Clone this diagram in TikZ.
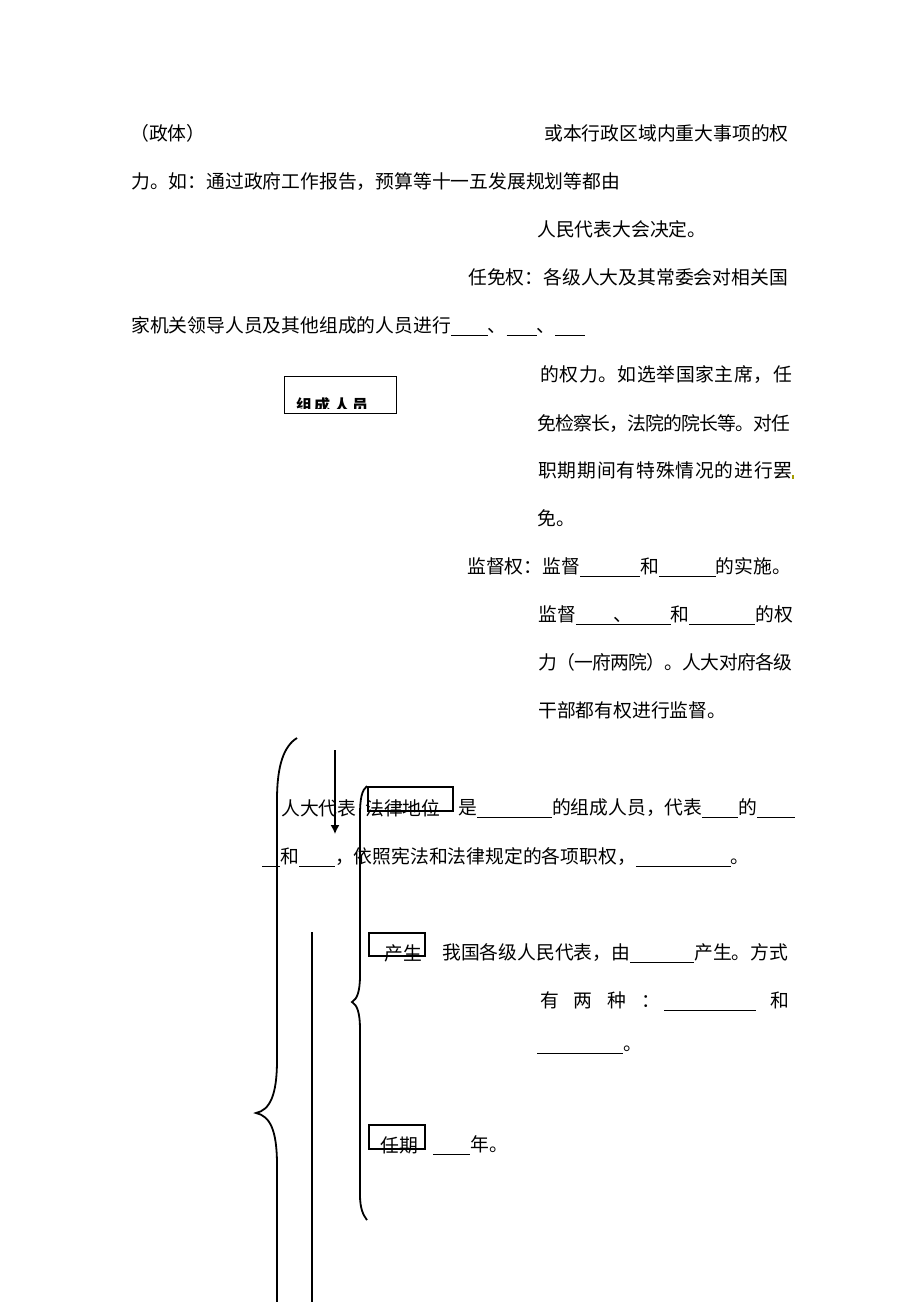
\documentclass[tikz,border=0pt]{standalone}
\usepackage{fontspec}
\setmainfont{Noto Sans CJK SC}
\usetikzlibrary{arrows,arrows.meta}
\newcommand{\fillin}[1]{\rule[-3pt]{#1pt}{0.8pt}}
\newcommand{\jline}[2]{{\addfontfeature{LetterSpace=#1}#2}}

\begin{document}
\begin{tikzpicture}[x=1pt,y=-1pt,
  txt/.style={anchor=west,inner sep=0pt,font=\fontsize{18.8pt}{18.8pt}\selectfont},
  tagbox/.style={draw,line width=2pt,anchor=north west,inner sep=0pt},
  brace/.style={line width=1.8pt}] %Renda
  \useasboundingbox (0,0) rectangle (920,1302);
  % obere Zeilen
  \node[txt] (zhengti) at (130,133) {（政体）};
  \node[txt] (quanli) at (544,133) {或本行政区域内重大事项的权};
  \node[txt] (ruguo) at (131,182) {力。如：通过政府工作报告，预算等十一五发展规划等都由};
  \node[txt] (jueding) at (537,229) {人民代表大会决定。};
  \node[txt] (renmian) at (468,277) {任免权：各级人大及其常委会对相关国};
  \node[txt] (jiguan) at (131,326) {家机关领导人员及其他组成的人员进行\fillin{37}、\fillin{30}、\fillin{30}};
  \node[txt] (xuanju) at (540,375) {\jline{3.3}{的权力。如选举国家主席，任}};
  \node[txt] (jiancha) at (537,424) {\jline{-4.2}{免检察长，法院的院长等。对任}};
  \node[txt] (teshu) at (538,470) {\jline{4.5}{职期期间有特殊情况的进行罢}};
  \fill[olive!80!yellow] (792,475) rectangle (794,479);
  \node[txt] (mian) at (537,518) {免。};
  \node[txt] (jiandu) at (467,567) {监督权：监督\fillin{60}和\fillin{57}的实施。};
  \node[txt] (yifu) at (538,615) {监督\rlap{\fillin{95}}\hspace{38pt}、\hspace{38pt}和\fillin{66}的权};
  \node[txt] (liangyuan) at (538,662) {\jline{-3.8}{力（一府两院）。人大对府各级}};
  \node[txt] (ganbu) at (538,710) {干部都有权进行监督。};
  % Kasten
  \node[draw,line width=0.8pt,anchor=north west,inner sep=0pt,
    minimum width=112,minimum height=37] (zcbox) at (284,376) {};
  \begin{scope}
    \clip (284,376) rectangle (396,408);
    \node[anchor=west,inner sep=0pt,font=\fontsize{16pt}{16pt}\selectfont\bfseries]
      (zcry) at (296,405) {组\hspace{2pt}成\hspace{4pt}人\hspace{2pt}员};
  \end{scope}
  % Klammern
  \draw[brace] (297,738) .. controls (284,746) and (277,765) .. (277,800)
    -- (277,1060) .. controls (277,1095) and (270,1110) .. (256,1113)
    .. controls (270,1116) and (277,1130) .. (277,1165) -- (277,1302);
  \draw[brace] (367,786) .. controls (362,790) and (360,798) .. (360,815)
    -- (360,975) .. controls (360,992) and (357,999) .. (352,1002)
    .. controls (357,1005) and (360,1012) .. (360,1030)
    -- (360,1195) .. controls (360,1208) and (363,1215) .. (367,1220);
  \coordinate (vtop) at (312,932);
  \coordinate (vbot) at (312,1302);
  \draw[line width=1.8pt] (vtop) -- (vbot);
  \coordinate (arrtop) at (335,750);
  \coordinate (arrtip) at (335,834);
  \draw[line width=1.4pt,-{Latex[length=9pt,width=9pt]}] (arrtop) -- (arrtip);
  % Renda daibiao
  \node[tagbox,minimum width=85,minimum height=24] (flbox) at (367,786) {};
  \node[txt] (rdbd) at (281,808) {人大代表};
  \node[txt] (fldw) at (365,808) {法律地位};
  \node[txt] (shi) at (458,808) {是\fillin{75}的组成人员，代表\fillin{36}的\fillin{38}};
  \node[txt] (zhiquan) at (262,857) {\fillin{18}和\fillin{36}，依照宪法和法律规定的各项职权，\fillin{95}。};
  \node[tagbox,minimum width=56,minimum height=23] (csbox) at (368,932) {};
  \node[txt] (chansheng) at (384,953) {产生};
  \node[txt] (woguo) at (442,953) {我国各级人民代表，由\fillin{64}产生。方式};
  \node[txt] (fangshi) at (540,1001) {有\hspace{15pt}两\hspace{15pt}种\hspace{15pt}：\hspace{4pt}\fillin{92}\hspace{14pt}和};
  \node[txt] (xuanfa) at (537,1050) {\fillin{86}。};
  \node[tagbox,minimum width=56,minimum height=24] (rqbox) at (368,1124) {};
  \node[txt] (renqi) at (380,1145) {任期};
  \node[txt] (nian) at (433,1145) {\fillin{37}年。};
\end{tikzpicture}
\end{document}
